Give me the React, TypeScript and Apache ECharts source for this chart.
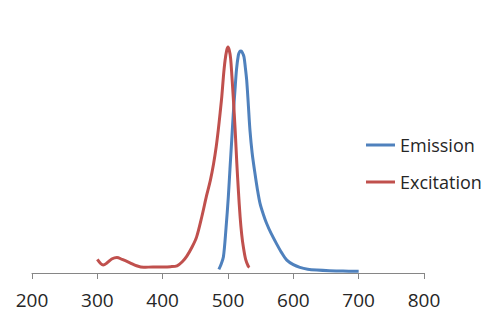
import React, { useEffect, useRef } from "react";
import * as echarts from "echarts";

const xTicks = [200, 300, 400, 500, 600, 700, 800];
const seriesNames = ["Emission", "Excitation"];
const emission: [number, number][] = [
  [486, 0.016], [489, 0.035], [493, 0.072], [497, 0.2], [500.5, 0.337], [503, 0.46],
  [505.7, 0.588], [508, 0.7], [510.7, 0.81], [513, 0.9], [515.8, 0.963], [518, 0.98],
  [520, 0.982], [522, 0.975], [524.5, 0.956], [526.5, 0.91], [528.6, 0.853], [531, 0.75],
  [533.6, 0.632], [537, 0.53], [541.3, 0.44], [545, 0.37], [549, 0.308], [554, 0.26],
  [559, 0.22], [566, 0.175], [574, 0.131], [582, 0.09], [590, 0.057], [600, 0.037],
  [610, 0.025], [622, 0.017], [636, 0.013], [655, 0.01], [671, 0.009], [685, 0.008], [700, 0.008],
];
const excitation: [number, number][] = [
  [300, 0.06], [305, 0.042], [309, 0.035], [315, 0.045], [322, 0.062], [330, 0.069],
  [338, 0.06], [350, 0.045], [360, 0.032], [371, 0.025], [385, 0.027], [400, 0.027],
  [412, 0.028], [422, 0.032], [430, 0.05], [437, 0.075], [445, 0.115], [452, 0.16],
  [460, 0.25], [467, 0.34], [473, 0.41], [478, 0.485], [482, 0.56], [485, 0.63],
  [488, 0.71], [490.5, 0.78], [493, 0.87], [495.5, 0.94], [498, 0.985], [500, 1.0],
  [502, 0.985], [504, 0.95], [506, 0.87], [508, 0.78], [511, 0.63], [513.5, 0.485],
  [516, 0.36], [518.5, 0.25], [521, 0.17], [523.5, 0.115], [527, 0.06], [531, 0.03], [533, 0.025],
];

const FONT = "'Open Sans', sans-serif";

export default function App() {
  const ref = useRef<HTMLDivElement>(null);
  useEffect(() => {
    if (!ref.current) return;
    const chart = echarts.init(ref.current, null, { renderer: "svg" });
    chart.setOption({
      animation: false,
      backgroundColor: "#ffffff",
      grid: { left: 32, right: 76, top: 47, bottom: 53 },
      legend: {
        orient: "vertical",
        left: 361,
        top: 130,
        itemWidth: 29,
        itemHeight: 3,
        itemGap: 17,
        icon: "rect",
        data: seriesNames,
        textStyle: { fontFamily: FONT, fontSize: 18, color: "#262626", lineHeight: 20 },
      },
      xAxis: {
        type: "value",
        min: xTicks[0],
        max: xTicks[xTicks.length - 1],
        interval: 100,
        splitLine: { show: false },
        axisLine: { lineStyle: { color: "#868686", width: 1 } },
        axisTick: { show: true, length: 6, lineStyle: { color: "#868686" } },
        axisLabel: { fontFamily: FONT, fontSize: 19, color: "#262626", margin: 17 },
      },
      yAxis: { type: "value", min: 0, max: 1, show: false },
      series: [
        {
          name: seriesNames[0],
          type: "line",
          data: emission,
          smooth: 0.3,
          showSymbol: false,
          clip: false,
          lineStyle: { color: "#4F81BD", width: 3 },
          itemStyle: { color: "#4F81BD" },
        },
        {
          name: seriesNames[1],
          type: "line",
          data: excitation,
          smooth: 0.3,
          showSymbol: false,
          clip: false,
          lineStyle: { color: "#C0504D", width: 3 },
          itemStyle: { color: "#C0504D" },
        },
      ],
    });
    return () => chart.dispose();
  }, []);
  return <div ref={ref} style={{ width: 500, height: 326, position: "absolute", left: 0, top: 0 }} />;
}
